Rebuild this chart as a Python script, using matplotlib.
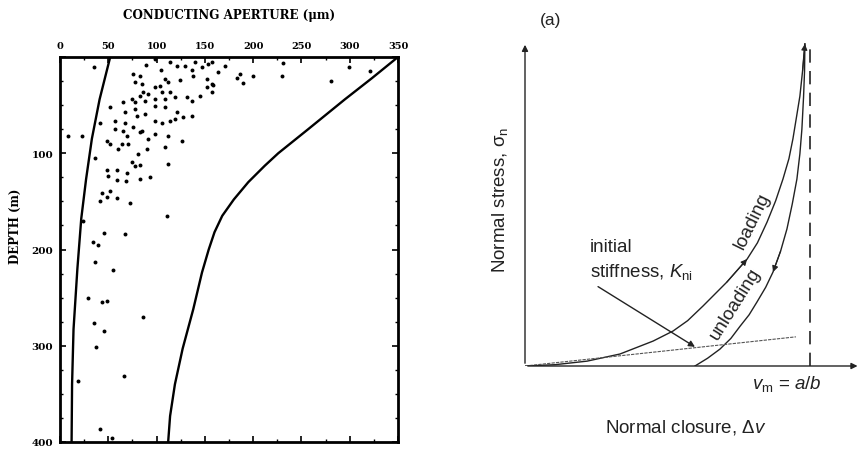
import numpy as np
import matplotlib
matplotlib.use("Agg")
import matplotlib.pyplot as plt

plt.rcParams["mathtext.fontset"] = "custom"
plt.rcParams["mathtext.rm"] = "Liberation Sans"
plt.rcParams["mathtext.it"] = "Liberation Sans:italic"

# ---- left panel: conducting aperture vs depth ----
aperture_um = [35, 89, 98, 105, 114, 121, 129, 137, 140, 147, 153, 157, 164, 171,
               76, 83, 78, 85, 109, 112, 124, 138, 152, 157, 152, 157, 145,
               98, 104, 106, 114, 86, 91, 83, 75, 65, 78, 88, 98, 109, 119, 131, 137,
               52, 67, 78, 80, 88, 98, 109, 121, 127, 137,
               98, 106, 114, 119, 57, 67, 57, 65, 76, 85, 41,
               8, 23,
               49, 52, 60, 64, 70, 69, 83, 98, 91, 112, 126, 90, 81, 109,
               36, 75, 78, 83, 112, 49, 59, 50, 59, 69, 68, 83, 93,
               43, 52, 41, 49, 59, 73, 111,
               24, 46, 67, 34, 39, 36, 55, 29, 43, 49, 86, 35,
               46, 37, 19, 66, 41, 54,
               158, 186, 183, 190, 200, 231, 230, 299, 321, 281]
depth_m = [10, 8, 2, 13, 5, 9, 9, 14, 5, 10, 7, 5, 16, 9,
           18, 20, 26, 28, 23, 26, 24, 20, 23, 28, 31, 36, 40,
           31, 30, 36, 36, 36, 38, 40, 44, 47, 47, 46, 44, 44, 42, 42, 46,
           52, 57, 54, 61, 59, 51, 52, 57, 62, 61,
           66, 69, 66, 64, 67, 69, 75, 77, 73, 77, 69,
           82, 82,
           87, 90, 96, 90, 90, 82, 78, 80, 85, 82, 87, 96, 101, 94,
           105, 109, 113, 112, 111, 117, 117, 124, 128, 120, 129, 127, 125,
           141, 139, 150, 145, 146, 152, 165,
           170, 183, 184, 192, 195, 213, 221, 250, 255, 253, 270, 276,
           285, 301, 337, 331, 386, 396,
           29, 18, 22, 27, 20, 6, 20, 10, 15, 25]

lower_depth = [0, 44, 85, 127, 168, 220, 283, 340, 400]
lower_aperture = [52, 41, 33, 27, 22, 18, 14, 12.5, 12]
upper_depth = [0, 22, 44, 75, 100, 113, 130, 148, 165, 182, 200, 224, 262, 303, 340, 373, 400]
upper_aperture = [350, 323, 295, 257, 226, 212, 195, 180, 168, 160, 154, 147, 138, 127, 119, 114, 112]

x_ticks = [0, 50, 100, 150, 200, 250, 300, 350]
y_ticks = [0, 100, 200, 300, 400]
y_tick_labels = ["", "100", "200", "300", "400"]

# ---- right panel: normal stress vs normal closure (schematic) ----
load_closure = [0, 0.09, 0.187, 0.286, 0.386, 0.446, 0.49, 0.536, 0.608, 0.669, 0.70,
                0.729, 0.755, 0.777, 0.795, 0.807, 0.818, 0.828, 0.836, 0.843]
load_stress = [0, 0.004, 0.015, 0.037, 0.077, 0.108, 0.14, 0.185, 0.259, 0.330, 0.38,
               0.444, 0.51, 0.577, 0.64, 0.701, 0.77, 0.833, 0.91, 0.994]
unload_closure = [0.512, 0.55, 0.587, 0.62, 0.648, 0.675, 0.699, 0.725, 0.747, 0.77,
                  0.789, 0.805, 0.819, 0.828, 0.834, 0.839, 0.842, 0.843]
unload_stress = [0, 0.024, 0.052, 0.085, 0.123, 0.158, 0.198, 0.243, 0.290, 0.355,
                 0.423, 0.50, 0.577, 0.655, 0.731, 0.83, 0.91, 0.994]
tangent_closure = [0, 0.816]
tangent_stress = [0, 0.090]
vm = 0.858

W, H = 863, 452
fig = plt.figure(figsize=(W / 100, H / 100), dpi=100)

serif = dict(family="DejaVu Serif", weight="bold")

ax = fig.add_axes([60 / W, 1 - 443 / H, 338 / W, 385 / H])
ax.scatter(aperture_um, depth_m, s=8, color="black", zorder=3, linewidths=0)
ax.plot(lower_aperture, lower_depth, color="black", lw=1.7)
ax.plot(upper_aperture, upper_depth, color="black", lw=1.7)
ax.set_xlim(0, 350)
ax.set_ylim(400, 0)
ax.xaxis.tick_top()
ax.set_xticks(x_ticks)
ax.set_xticklabels([str(v) for v in x_ticks], fontsize=7, **serif)
ax.set_yticks(y_ticks)
ax.set_yticklabels(y_tick_labels, fontsize=7.5, **serif)
ax.set_xticks(np.arange(0, 351, 25), minor=True)
ax.set_yticks(np.arange(0, 401, 25), minor=True)
ax.tick_params(which="both", direction="in", top=True, bottom=True, left=True, right=True)
ax.tick_params(which="major", length=4, width=1.2, pad=5)
ax.tick_params(which="minor", length=2, width=1)
for s in ax.spines.values():
    s.set_linewidth(2)
fig.text(229 / W, 1 - 15 / H, "CONDUCTING APERTURE (μm)", ha="center", va="center",
         fontsize=8.6, **serif)
fig.text(15 / W, 1 - 226 / H, "DEPTH (m)", rotation=90, ha="center", va="center",
         fontsize=8.5, **serif)

# right schematic
ax2 = fig.add_axes([525 / W, 1 - 367 / H, 332 / W, 324 / H])
ax2.set_xlim(0, 1)
ax2.set_ylim(0, 1)
ax2.axis("off")
ink = "#222222"
ax2.annotate("", xy=(0, 1.0), xytext=(0, 0),
             arrowprops=dict(arrowstyle="-|>", color=ink, lw=1, mutation_scale=9))
ax2.annotate("", xy=(1.01, 0), xytext=(0, 0), annotation_clip=False,
             arrowprops=dict(arrowstyle="-|>", color=ink, lw=1, mutation_scale=9))
ax2.plot(load_closure, load_stress, color=ink, lw=1)
ax2.plot(unload_closure, unload_stress, color=ink, lw=1)
ax2.plot(tangent_closure, tangent_stress, color="#555555", lw=0.8, ls=(0, (3, 1)))
ax2.plot([vm, vm], [0, 1], color=ink, lw=1.2, ls=(0, (8, 5)))


# direction heads on curves
def head(xs, ys, i, j):
    ax2.annotate("", xy=(xs[j], ys[j]), xytext=(xs[i], ys[i]),
                 arrowprops=dict(arrowstyle="-|>", color=ink, lw=0.8, mutation_scale=9,
                                 shrinkA=0, shrinkB=0))


head(load_closure, load_stress, 8, 9)
head(unload_closure, unload_stress, 9, 8)
head(load_closure, load_stress, 18, 19)

ax2.annotate("", xy=(unload_closure[0], 0.059), xytext=(0.22, 0.245),
             arrowprops=dict(arrowstyle="-|>", color=ink, lw=1, mutation_scale=9,
                             shrinkA=0, shrinkB=0))

sans = dict(family="Liberation Sans", color="#222222")
fs = 13.5
fig.text(590 / W, 1 - 248 / H, "initial", fontsize=fs, va="center", ha="left", **sans)
fig.text(590 / W, 1 - 272 / H, r"stiffness, $\mathit{K}_{\mathrm{ni}}$", fontsize=fs,
         va="center", ha="left", **sans)
fig.text(752 / W, 1 - 221 / H, "loading", fontsize=fs, rotation=64, ha="center",
         va="center", **sans)
fig.text(735 / W, 1 - 304 / H, "unloading", fontsize=fs, rotation=58, ha="center",
         va="center", **sans)
fig.text(787 / W, 1 - 384 / H, r"$\mathit{v}_{\mathrm{m}}$ = $\mathit{a/b}$", fontsize=fs,
         ha="center", va="center", **sans)
fig.text(686 / W, 1 - 428 / H, r"Normal closure, Δ$\mathit{v}$", fontsize=fs,
         ha="center", va="center", **sans)
fig.text(500 / W, 1 - 200 / H, r"Normal stress, σ$_{\mathrm{n}}$", fontsize=fs,
         rotation=90, ha="center", va="center", **sans)
fig.text(551 / W, 1 - 20 / H, "(a)", fontsize=12.5, ha="center", va="center", **sans)

fig.savefig("out.png", dpi=100)
